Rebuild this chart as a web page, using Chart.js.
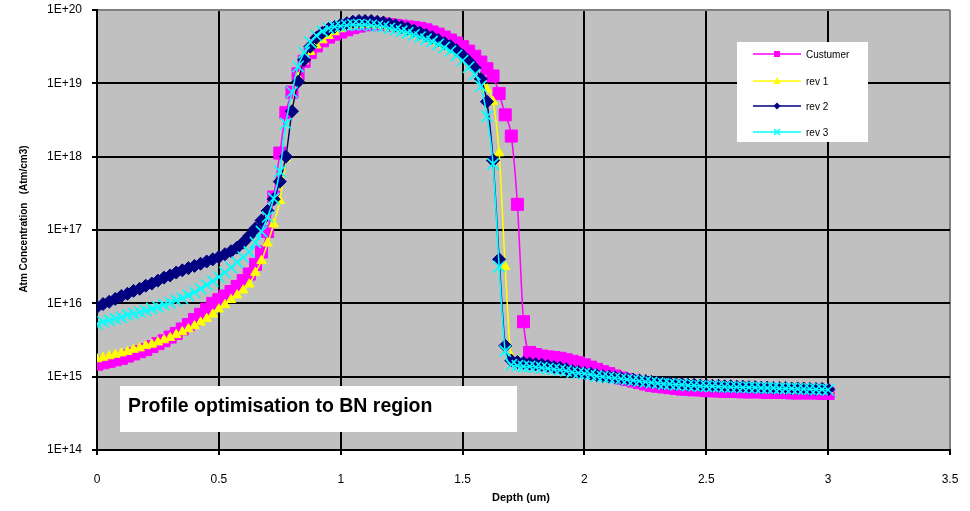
<!DOCTYPE html>
<html>
<head>
<meta charset="utf-8">
<script src="https://cdn.jsdelivr.net/npm/chart.js@4.4.1/dist/chart.umd.min.js"></script>
<style>
  html, body { margin: 0; padding: 0; background: #fff; }
</style>
</head>
<body>
<canvas id="grafico" width="970" height="511"></canvas>
<script>
// Profundidade (um) - eixo x
const profundidade = [
  0, 0.025, 0.05, 0.075, 0.1, 0.125, 0.15, 0.175, 0.2, 0.225,
  0.25, 0.275, 0.3, 0.325, 0.35, 0.375, 0.4, 0.425, 0.45, 0.475,
  0.5, 0.525, 0.55, 0.575, 0.6, 0.625, 0.65, 0.675, 0.7, 0.725,
  0.75, 0.775, 0.8, 0.825, 0.85, 0.875, 0.9, 0.925, 0.95, 0.975,
  1, 1.025, 1.05, 1.075, 1.1, 1.125, 1.15, 1.175, 1.2, 1.225,
  1.25, 1.275, 1.3, 1.325, 1.35, 1.375, 1.4, 1.425, 1.45, 1.475,
  1.5, 1.525, 1.55, 1.575, 1.6, 1.625, 1.65, 1.675, 1.7, 1.725,
  1.75, 1.775, 1.8, 1.825, 1.85, 1.875, 1.9, 1.925, 1.95, 1.975,
  2, 2.025, 2.05, 2.075, 2.1, 2.125, 2.15, 2.175, 2.2, 2.225,
  2.25, 2.275, 2.3, 2.325, 2.35, 2.375, 2.4, 2.425, 2.45, 2.475,
  2.5, 2.525, 2.55, 2.575, 2.6, 2.625, 2.65, 2.675, 2.7, 2.725,
  2.75, 2.775, 2.8, 2.825, 2.85, 2.875, 2.9, 2.925, 2.95, 2.975,
  3
];

// Concentração (Atm/cm3) de cada perfil
const custumer = [
  1.48e15, 1.55e15, 1.62e15, 1.7e15, 1.78e15, 1.91e15, 2.04e15, 2.19e15, 2.34e15, 2.57e15,
  2.82e15, 3.09e15, 3.47e15, 3.89e15, 4.47e15, 5.13e15, 6.03e15, 7.08e15, 8.32e15, 1.0e16,
  1.12e16, 1.26e16, 1.45e16, 1.7e16, 2.04e16, 2.51e16, 3.39e16, 5.01e16, 9.55e16, 2.82e17,
  1.12e18, 3.98e18, 7.59e18, 1.35e19, 2.0e19, 2.63e19, 3.24e19, 3.8e19, 4.27e19, 4.68e19,
  5.01e19, 5.37e19, 5.75e19, 6.03e19, 6.31e19, 6.31e19, 6.46e19, 6.46e19, 6.31e19, 6.17e19,
  6.03e19, 5.89e19, 5.75e19, 5.62e19, 5.37e19, 5.01e19, 4.68e19, 4.27e19, 3.89e19, 3.55e19,
  3.16e19, 2.75e19, 2.34e19, 1.95e19, 1.58e19, 1.26e19, 7.24e18, 3.72e18, 1.91e18, 2.24e17,
  5.62e15, 2.14e15, 2.0e15, 1.91e15, 1.86e15, 1.82e15, 1.78e15, 1.7e15, 1.62e15, 1.55e15,
  1.45e15, 1.35e15, 1.26e15, 1.17e15, 1.1e15, 1.02e15, 9.55e14, 9.12e14, 8.71e14, 8.32e14,
  7.94e14, 7.59e14, 7.41e14, 7.24e14, 7.08e14, 6.92e14, 6.76e14, 6.76e14, 6.61e14, 6.61e14,
  6.46e14, 6.4e14, 6.4e14, 6.3e14, 6.3e14, 6.3e14, 6.2e14, 6.2e14, 6.2e14, 6.2e14,
  6.1e14, 6.1e14, 6.1e14, 6.1e14, 6.0e14, 6.0e14, 6.0e14, 6.0e14, 6.0e14, 5.9e14,
  5.9e14
];

const rev1 = [
  1.74e15, 1.82e15, 1.91e15, 2.0e15, 2.09e15, 2.19e15, 2.34e15, 2.45e15, 2.63e15, 2.75e15,
  2.95e15, 3.16e15, 3.39e15, 3.72e15, 4.07e15, 4.47e15, 4.9e15, 5.5e15, 6.17e15, 7.08e15,
  8.32e15, 9.55e15, 1.12e16, 1.29e16, 1.51e16, 1.82e16, 2.63e16, 3.8e16, 6.61e16, 1.2e17,
  2.51e17, 9.55e17, 4.47e18, 1.2e19, 2.0e19, 2.69e19, 3.31e19, 3.89e19, 4.47e19, 5.01e19,
  5.5e19, 5.89e19, 6.17e19, 6.31e19, 6.31e19, 6.31e19, 6.17e19, 6.03e19, 5.75e19, 5.62e19,
  5.37e19, 5.13e19, 4.79e19, 4.57e19, 4.27e19, 3.98e19, 3.63e19, 3.31e19, 3.02e19, 2.69e19,
  2.34e19, 2.0e19, 1.62e19, 1.2e19, 8.32e18, 5.62e18, 1.12e18, 3.16e16, 1.86e15, 1.58e15,
  1.51e15, 1.48e15, 1.45e15, 1.41e15, 1.38e15, 1.32e15, 1.29e15, 1.23e15, 1.2e15, 1.15e15,
  1.12e15, 1.07e15, 1.05e15, 1.02e15, 1.0e15, 9.77e14, 9.55e14, 9.33e14, 9.12e14, 8.91e14,
  8.71e14, 8.51e14, 8.32e14, 8.13e14, 7.94e14, 7.94e14, 7.76e14, 7.76e14, 7.59e14, 7.59e14,
  7.41e14, 7.4e14, 7.3e14, 7.3e14, 7.2e14, 7.2e14, 7.1e14, 7.1e14, 7.0e14, 7.0e14,
  7.0e14, 6.9e14, 6.9e14, 6.9e14, 6.8e14, 6.8e14, 6.7e14, 6.7e14, 6.7e14, 6.6e14,
  6.6e14
];

const rev2 = [
  8.91e15, 9.77e15, 1.05e16, 1.15e16, 1.26e16, 1.35e16, 1.48e16, 1.58e16, 1.74e16, 1.86e16,
  2.04e16, 2.24e16, 2.4e16, 2.63e16, 2.82e16, 3.02e16, 3.24e16, 3.47e16, 3.72e16, 3.98e16,
  4.27e16, 4.68e16, 5.13e16, 5.75e16, 6.76e16, 8.32e16, 1.05e17, 1.35e17, 1.82e17, 2.63e17,
  4.57e17, 1.0e18, 4.17e18, 1.05e19, 2.09e19, 3.16e19, 4.17e19, 4.9e19, 5.5e19, 5.89e19,
  6.31e19, 6.61e19, 6.92e19, 7.08e19, 7.08e19, 7.08e19, 6.92e19, 6.76e19, 6.46e19, 6.17e19,
  5.89e19, 5.62e19, 5.25e19, 4.9e19, 4.57e19, 4.27e19, 3.89e19, 3.55e19, 3.24e19, 2.82e19,
  2.4e19, 2.0e19, 1.62e19, 1.15e19, 5.62e18, 8.91e17, 3.98e16, 2.63e15, 1.66e15, 1.58e15,
  1.55e15, 1.51e15, 1.48e15, 1.45e15, 1.41e15, 1.35e15, 1.32e15, 1.26e15, 1.2e15, 1.17e15,
  1.12e15, 1.1e15, 1.05e15, 1.02e15, 1.0e15, 9.77e14, 9.55e14, 9.33e14, 9.12e14, 8.91e14,
  8.71e14, 8.51e14, 8.32e14, 8.13e14, 8.13e14, 7.94e14, 7.94e14, 7.76e14, 7.76e14, 7.59e14,
  7.59e14, 7.5e14, 7.5e14, 7.4e14, 7.4e14, 7.3e14, 7.3e14, 7.2e14, 7.2e14, 7.1e14,
  7.1e14, 7.0e14, 7.0e14, 7.0e14, 6.9e14, 6.9e14, 6.9e14, 6.8e14, 6.8e14, 6.8e14,
  6.7e14
];

const rev3 = [
  5.25e15, 5.62e15, 5.89e15, 6.17e15, 6.46e15, 6.92e15, 7.24e15, 7.59e15, 7.94e15, 8.51e15,
  8.91e15, 9.55e15, 1.02e16, 1.1e16, 1.17e16, 1.29e16, 1.41e16, 1.58e16, 1.78e16, 2.0e16,
  2.29e16, 2.63e16, 3.09e16, 3.63e16, 4.27e16, 5.01e16, 6.76e16, 9.55e16, 1.51e17, 2.69e17,
  6.31e17, 2.82e18, 7.59e18, 1.7e19, 2.63e19, 3.63e19, 4.47e19, 5.13e19, 5.62e19, 5.89e19,
  6.03e19, 6.17e19, 6.31e19, 6.31e19, 6.31e19, 6.17e19, 6.03e19, 5.89e19, 5.62e19, 5.37e19,
  5.13e19, 4.9e19, 4.57e19, 4.27e19, 3.98e19, 3.72e19, 3.39e19, 3.09e19, 2.75e19, 2.4e19,
  2.04e19, 1.66e19, 1.32e19, 9.12e18, 3.55e18, 7.94e17, 3.16e16, 2.24e15, 1.45e15, 1.41e15,
  1.38e15, 1.38e15, 1.35e15, 1.32e15, 1.29e15, 1.26e15, 1.23e15, 1.2e15, 1.15e15, 1.12e15,
  1.1e15, 1.07e15, 1.02e15, 1.0e15, 9.77e14, 9.55e14, 9.33e14, 9.12e14, 8.91e14, 8.71e14,
  8.51e14, 8.32e14, 8.13e14, 7.94e14, 7.94e14, 7.76e14, 7.76e14, 7.59e14, 7.59e14, 7.41e14,
  7.41e14, 7.4e14, 7.3e14, 7.3e14, 7.2e14, 7.2e14, 7.1e14, 7.1e14, 7.1e14, 7.0e14,
  7.0e14, 7.0e14, 6.9e14, 6.9e14, 6.9e14, 6.8e14, 6.8e14, 6.8e14, 6.7e14, 6.7e14,
  6.6e14
];

// Rótulos dos eixos
const xTicks = [0, 0.5, 1, 1.5, 2, 2.5, 3, 3.5];
const xTickLabels = ['0', '0.5', '1', '1.5', '2', '2.5', '3', '3.5'];
const yTicks = [1e14, 1e15, 1e16, 1e17, 1e18, 1e19, 1e20];
const yTickLabels = ['1E+14', '1E+15', '1E+16', '1E+17', '1E+18', '1E+19', '1E+20'];
const xTitulo = 'Depth (um)';
const yTitulo = 'Atm Concentration   (Atm/cm3)';
const nota = 'Profile optimisation to BN region';

const FONTE = '"Liberation Sans", Arial, sans-serif';

function serie(label, valores, cor, estilo, raio, ordem) {
  return {
    label: label,
    data: profundidade.map((x, i) => ({ x: x, y: valores[i] })),
    borderColor: cor,
    backgroundColor: cor,
    borderWidth: 1.5,
    pointStyle: estilo,
    pointRadius: raio,
    pointBackgroundColor: cor,
    pointBorderColor: cor,
    pointBorderWidth: estilo === 'crossRot' ? 1.6 : 1,
    cubicInterpolationMode: 'monotone',
    order: ordem
  };
}

const fundo = {
  id: 'fundo',
  beforeDraw(chart) {
    const { ctx, chartArea: a } = chart;
    ctx.save();
    ctx.fillStyle = '#fff';
    ctx.fillRect(0, 0, chart.width, chart.height);
    ctx.fillStyle = '#C0C0C0';
    ctx.fillRect(a.left, a.top, a.right - a.left, a.bottom - a.top);
    ctx.restore();
  }
};

function marcador(ctx, estilo, cor, x, y, r) {
  ctx.fillStyle = cor;
  ctx.strokeStyle = cor;
  ctx.beginPath();
  if (estilo === 'rect') {
    ctx.fillRect(x - r, y - r, 2 * r, 2 * r);
  } else if (estilo === 'triangle') {
    ctx.moveTo(x, y - r - 1);
    ctx.lineTo(x + r + 0.5, y + r);
    ctx.lineTo(x - r - 0.5, y + r);
    ctx.closePath();
    ctx.fill();
  } else if (estilo === 'rectRot') {
    ctx.moveTo(x, y - r - 0.5);
    ctx.lineTo(x + r + 0.5, y);
    ctx.lineTo(x, y + r + 0.5);
    ctx.lineTo(x - r - 0.5, y);
    ctx.closePath();
    ctx.fill();
  } else {
    ctx.lineWidth = 1.5;
    ctx.moveTo(x - r, y - r);
    ctx.lineTo(x + r, y + r);
    ctx.moveTo(x + r, y - r);
    ctx.lineTo(x - r, y + r);
    ctx.stroke();
  }
}

const extras = {
  id: 'extras',
  afterDraw(chart) {
    const ctx = chart.ctx;

    // títulos dos eixos
    ctx.save();
    ctx.fillStyle = '#000';
    ctx.textAlign = 'center';
    ctx.textBaseline = 'middle';
    ctx.font = 'bold 10px ' + FONTE;
    ctx.translate(24, 219);
    ctx.rotate(-Math.PI / 2);
    ctx.fillText(yTitulo, 0, 0);
    ctx.restore();

    ctx.save();
    ctx.fillStyle = '#000';
    ctx.textAlign = 'center';
    ctx.textBaseline = 'middle';
    ctx.font = 'bold 11px ' + FONTE;
    ctx.fillText(xTitulo, 521, 498);
    ctx.restore();

    // legenda
    ctx.save();
    ctx.fillStyle = '#fff';
    ctx.fillRect(737, 42, 131, 100);
    const linhas = [54, 81, 106, 132];
    chart.data.datasets.forEach((ds, i) => {
      const y = linhas[i];
      ctx.strokeStyle = ds.borderColor;
      ctx.lineWidth = 1.5;
      ctx.beginPath();
      ctx.moveTo(753, y);
      ctx.lineTo(801, y);
      ctx.stroke();
      marcador(ctx, ds.pointStyle, ds.borderColor, 777, y, 3);
      ctx.fillStyle = '#000';
      ctx.font = '10px ' + FONTE;
      ctx.textAlign = 'left';
      ctx.textBaseline = 'middle';
      ctx.fillText(ds.label, 806, y + 1);
    });
    ctx.restore();

    // caixa de texto
    ctx.save();
    ctx.fillStyle = '#fff';
    ctx.fillRect(120, 386, 397, 46);
    ctx.fillStyle = '#000';
    ctx.textAlign = 'left';
    ctx.textBaseline = 'alphabetic';
    ctx.font = 'bold 18px ' + FONTE;
    const w = ctx.measureText(nota).width;
    const tam = Math.min(20, 18 * 305 / w);
    ctx.font = 'bold ' + tam.toFixed(1) + 'px ' + FONTE;
    ctx.fillText(nota, 128, 412);
    ctx.restore();
  }
};

const corGrade = (valorBorda) => (c) => (c.tick && c.tick.value === valorBorda ? '#808080' : '#000');

new Chart(document.getElementById('grafico'), {
  type: 'line',
  data: {
    datasets: [
      serie('Custumer', custumer, '#FF00FF', 'rect', 8.5, 4),
      serie('rev 1', rev1, '#FFFF00', 'triangle', 5.5, 3),
      serie('rev 2', rev2, '#000080', 'rectRot', 6.5, 2),
      serie('rev 3', rev3, '#00FFFF', 'crossRot', 8, 1)
    ]
  },
  options: {
    responsive: false,
    animation: false,
    layout: { padding: { top: 10, right: 20, left: 0, bottom: 0 } },
    plugins: {
      legend: { display: false },
      tooltip: { enabled: false }
    },
    scales: {
      x: {
        type: 'linear',
        min: 0,
        max: 3.5,
        afterBuildTicks: (s) => { s.ticks = xTicks.map(v => ({ value: v })); },
        afterFit: (s) => { s.height = 61; s.paddingLeft = 0; s.paddingRight = 0; },
        ticks: {
          color: '#000',
          font: { family: FONTE, size: 12 },
          padding: 17,
          maxRotation: 0,
          callback: (v) => xTickLabels[xTicks.indexOf(v)]
        },
        grid: {
          color: corGrade(3.5),
          lineWidth: 2,
          tickColor: '#000',
          tickLength: 5,
          tickWidth: 2
        },
        border: { color: '#000', width: 2 }
      },
      y: {
        type: 'logarithmic',
        min: 1e14,
        max: 1e20,
        afterBuildTicks: (s) => { s.ticks = yTicks.map(v => ({ value: v })); },
        afterFit: (s) => { s.width = 97; s.paddingTop = 0; s.paddingBottom = 0; },
        ticks: {
          color: '#000',
          font: { family: FONTE, size: 12 },
          padding: 10,
          callback: (v) => yTickLabels[yTicks.indexOf(v)]
        },
        grid: {
          color: corGrade(1e20),
          lineWidth: 2,
          tickColor: '#000',
          tickLength: 5,
          tickWidth: 2
        },
        border: { color: '#000', width: 2 }
      }
    }
  },
  plugins: [fundo, extras]
});
</script>
</body>
</html>
